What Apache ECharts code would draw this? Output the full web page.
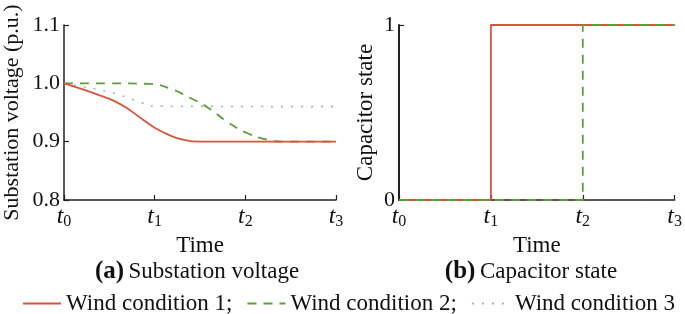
<!DOCTYPE html>
<html>
<head>
<meta charset="utf-8">
<script src="https://cdn.jsdelivr.net/npm/echarts@6/dist/echarts.min.js"></script>
<style>
  html, body { margin: 0; padding: 0; background: #fff; }
  #chart { width: 685px; height: 314px; }
</style>
</head>
<body>
<div id="chart"></div>
<script>
// 时间刻度标签 t0..t3
const timeTicks = ["0", "1", "2", "3"];

// (a) 变电站电压
const v1Time = [0, 0.2, 0.4, 0.55, 0.7, 0.85, 1.0, 1.15, 1.3, 1.5, 3];
const v1Vals = [1.0, 0.99, 0.979, 0.97, 0.957, 0.94, 0.924, 0.912, 0.904, 0.9, 0.9];
const v2Time = [0, 0.5, 0.95, 1.17, 1.38, 1.6, 1.82, 2.03, 2.25, 2.4, 3];
const v2Vals = [1.0, 1.0, 0.999, 0.991, 0.976, 0.957, 0.932, 0.914, 0.903, 0.9, 0.9];
const v3Time = [0, 0.25, 0.5, 0.69, 0.85, 1.0, 3];
const v3Vals = [1.0, 0.993, 0.985, 0.976, 0.967, 0.961, 0.96];

// (b) 电容器状态
const c1Time = [0, 1, 3];
const c1Vals = [0, 1, 1];
const c2Time = [0, 2, 3];
const c2Vals = [0, 1, 1];
const c3Time = [0, 3];
const c3Vals = [0, 0];

const names = ["Wind condition 1", "Wind condition 2", "Wind condition 3"];
const colors = ["#d8553c", "#5c9e3a", "#a3b2ba"];

const zip = (xs, ys) => xs.map((x, i) => [x, ys[i]]);
const font = "Liberation Serif";

const chart = echarts.init(document.getElementById("chart"));

function xAxisOf(idx) {
  return {
    gridIndex: idx,
    type: "value",
    min: 0,
    max: 3,
    interval: 1,
    name: "Time",
    nameLocation: "middle",
    nameGap: 31,
    nameTextStyle: { fontFamily: font, fontSize: 23, color: "#111" },
    axisLine: { lineStyle: { color: "#222", width: 1.5 } },
    axisTick: { inside: true, length: 5, lineStyle: { color: "#222", width: 1.2 } },
    splitLine: { show: false },
    axisLabel: {
      margin: 4,
      formatter: (v) => "{t|t}{s|" + timeTicks[Math.round(v)] + "}",
      rich: {
        t: { fontFamily: font, fontStyle: "italic", fontSize: 24, color: "#111" },
        s: { fontFamily: font, fontSize: 16, color: "#111", padding: [10, 0, 0, 0] },
      },
    },
  };
}

const lineBase = { type: "line", showSymbol: false, symbol: "none" };
const subTitle = (txt, lbl, x) => ({
  text: "{b|" + lbl + "} {n|" + txt + "}",
  left: x,
  textAlign: "center",
  top: 254,
  textStyle: {
    fontWeight: "normal",
    rich: {
      b: { fontFamily: font, fontWeight: "bold", fontSize: 25, color: "#111" },
      n: { fontFamily: font, fontWeight: "normal", fontSize: 23, color: "#111" },
    },
  },
});

chart.setOption({
  animation: false,
  textStyle: { fontFamily: font },
  title: [
    subTitle("Substation voltage", "(a)", 192),
    subTitle("Capacitor state", "(b)", 526),
  ],
  legend: {
    top: 287,
    left: 17,
    itemWidth: 38,
    itemHeight: 12,
    itemGap: 14,
    data: names,
    itemStyle: { opacity: 0 },
    formatter: (n) => (n === names[2] ? n : n + ";"),
    textStyle: { fontFamily: font, fontSize: 23, color: "#111" },
  },
  grid: [
    { left: 59, top: 25, width: 277, height: 175 },
    { left: 399, top: 25, width: 276, height: 175 },
  ],
  xAxis: [xAxisOf(0), xAxisOf(1)],
  yAxis: [
    {
      gridIndex: 0,
      type: "value",
      min: 0.8,
      max: 1.1,
      interval: 0.1,
      name: "Substation voltage (p.u.)",
      nameLocation: "middle",
      nameGap: 41,
      nameTextStyle: { fontFamily: font, fontSize: 22, color: "#111" },
      axisLine: { show: true, lineStyle: { color: "#222", width: 1.5 } },
      axisTick: { show: true, inside: true, length: 5, lineStyle: { color: "#222", width: 1.2 } },
      splitLine: { show: false },
      axisLabel: {
        margin: 4,
        fontFamily: font,
        fontSize: 22,
        color: "#111",
        formatter: (v) => v.toFixed(1),
      },
    },
    {
      gridIndex: 1,
      type: "value",
      min: 0,
      max: 1,
      interval: 1,
      name: "Capacitor state",
      nameLocation: "middle",
      nameGap: 22,
      nameTextStyle: { fontFamily: font, fontSize: 23, color: "#111" },
      axisLine: { show: true, lineStyle: { color: "#222", width: 2 } },
      axisTick: { show: true, inside: true, length: 5, lineStyle: { color: "#222", width: 1.2 } },
      splitLine: { show: false },
      axisLabel: { margin: 4, fontFamily: font, fontSize: 22, color: "#111" },
    },
  ],
  series: [
    {
      ...lineBase, name: names[2], xAxisIndex: 0, yAxisIndex: 0, smooth: 0.4,
      data: zip(v3Time, v3Vals),
      lineStyle: { color: colors[2], width: 1.6, type: [2, 8] },
      itemStyle: { color: colors[2] },
    },
    {
      ...lineBase, name: names[1], xAxisIndex: 0, yAxisIndex: 0, smooth: 0.5,
      data: zip(v2Time, v2Vals),
      lineStyle: { color: colors[1], width: 1.8, type: [9, 7] },
      itemStyle: { color: colors[1] },
    },
    {
      ...lineBase, name: names[0], xAxisIndex: 0, yAxisIndex: 0, smooth: 0.5,
      data: zip(v1Time, v1Vals),
      lineStyle: { color: colors[0], width: 1.8 },
      itemStyle: { color: colors[0] },
    },
    {
      ...lineBase, name: names[2], xAxisIndex: 1, yAxisIndex: 1, step: "end",
      data: zip(c3Time, c3Vals),
      lineStyle: { color: "#555", width: 1.6, type: [8, 5] },
      itemStyle: { color: colors[2] },
    },
    {
      ...lineBase, name: names[0], xAxisIndex: 1, yAxisIndex: 1, step: "end",
      data: zip(c1Time, c1Vals),
      lineStyle: { color: colors[0], width: 1.8 },
      itemStyle: { color: colors[0] },
    },
    {
      ...lineBase, name: names[1], xAxisIndex: 1, yAxisIndex: 1, step: "end",
      data: zip(c2Time, c2Vals),
      lineStyle: { color: colors[1], width: 1.8, type: [9, 7] },
      itemStyle: { color: colors[1] },
    },
  ],
});
</script>
</body>
</html>
